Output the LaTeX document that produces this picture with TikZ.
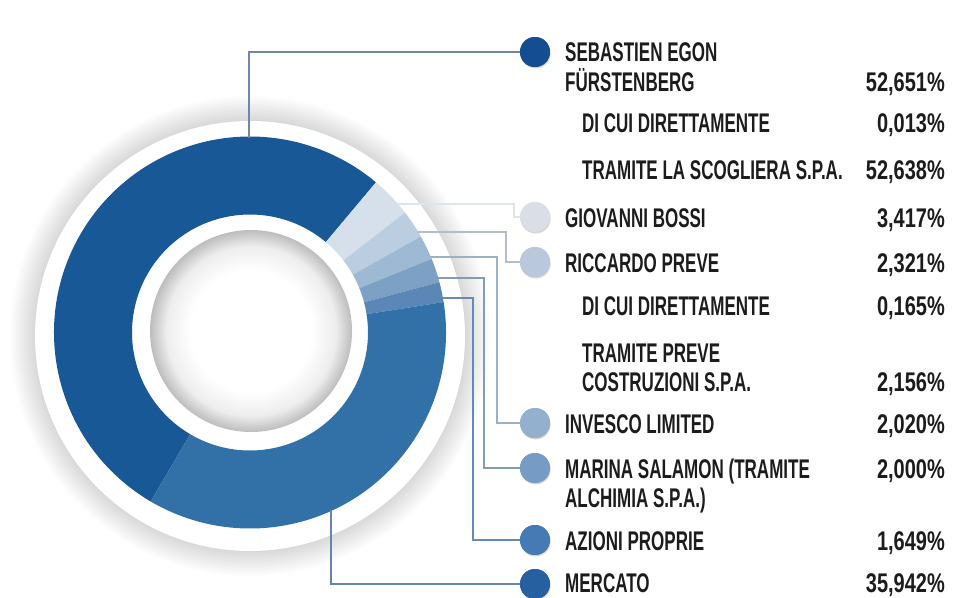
\documentclass[tikz,border=0pt]{standalone}
\usepackage{fontspec}
\setmainfont{Liberation Sans}
\newfontfamily\lblfont{Liberation Sans}[FakeStretch=0.63]
\newfontfamily\numfont{Liberation Sans}[FakeStretch=0.74]
\usetikzlibrary{shadows}
\definecolor{cF}{RGB}{24,88,151}
\definecolor{cM}{RGB}{50,112,168}
\definecolor{cB}{RGB}{214,224,235}
\definecolor{cP}{RGB}{187,205,224}
\definecolor{cI}{RGB}{158,185,212}
\definecolor{cS}{RGB}{125,160,197}
\definecolor{cA}{RGB}{90,135,182}
\definecolor{dF}{RGB}{20,78,145}
\definecolor{dB}{RGB}{218,222,230}
\definecolor{dP}{RGB}{185,200,220}
\definecolor{dI}{RGB}{148,176,207}
\definecolor{dS}{RGB}{118,155,196}
\definecolor{dA}{RGB}{68,123,180}
\definecolor{dM}{RGB}{38,96,160}
\definecolor{lnF}{RGB}{110,135,170}
\definecolor{lnB}{RGB}{222,228,236}
\definecolor{lnP}{RGB}{178,188,202}
\definecolor{lnI}{RGB}{160,176,196}
\definecolor{lnS}{RGB}{132,155,184}
\definecolor{lnA}{RGB}{104,137,176}
\definecolor{lnM}{RGB}{100,133,172}
\definecolor{txt}{RGB}{28,28,28}
\pgfdeclareradialshading{holeshade}{\pgfpoint{0bp}{0bp}}{color(0bp)=(white); color(15bp)=(white); color(21bp)=(black!7); color(25bp)=(black!26); color(50bp)=(black!26)}
\newcommand\donutseg[3]{\fill[#1] (#2:118) arc[start angle=#2, end angle=#3, radius=118] -- (#3:196) arc[start angle=#3, end angle=#2, radius=196] -- cycle;}
\begin{document}
\begin{tikzpicture}[x=1pt,y=-1pt,
  lbl/.style={anchor=base west, inner sep=0pt, text=txt, font=\lblfont\bfseries\fontsize{27}{32}\selectfont},
  val/.style={anchor=base east, inner sep=0pt, text=txt, font=\numfont\bfseries\fontsize{27}{32}\selectfont},
  legdot/.style={circle, minimum size=30pt, inner sep=0pt, draw=none, drop shadow={opacity=0.18, shadow xshift=0.6pt, shadow yshift=-1.4pt}},
  conn/.style={line width=1.4pt}]
\useasboundingbox (0,0) rectangle (953,597);
\fill[white] (0,0) rectangle (953,597);
% soft outer shadow and white disk
\foreach \r in {216,218,...,240}
  \fill[black,opacity=0.012] (250,336) circle[radius=\r];
\fill[white] (250,336) circle[radius=215];
% donut segments
\begin{scope}[shift={(250,332.5)}]
  \donutseg{cF}{-50}{-239.544}
  \donutseg{cB}{-37.699}{-50}
  \donutseg{cP}{-29.343}{-37.699}
  \donutseg{cI}{-22.071}{-29.343}
  \donutseg{cS}{-14.871}{-22.071}
  \donutseg{cA}{-8.935}{-14.871}
  \donutseg{cM}{120.456}{-8.935}
\end{scope}
% inner hole
\shade[shading=holeshade] (251,331) circle[radius=101];
% legend dots
\node[legdot, fill=dF] (dotF) at (535,52) {};
\node[legdot, fill=dB] (dotB) at (535,217) {};
\node[legdot, fill=dP] (dotP) at (535,262) {};
\node[legdot, fill=dI] (dotI) at (535,423) {};
\node[legdot, fill=dS] (dotS) at (535,468) {};
\node[legdot, fill=dA] (dotA) at (535,540) {};
\node[legdot, fill=dM] (dotM) at (535,584) {};
% connector anchors
\coordinate (sF) at (249,138);
\coordinate (sB) at (397,204);
\coordinate (kB) at (514,204);
\coordinate (sP) at (417,232);
\coordinate (kP) at (506,232);
\coordinate (sI) at (430,257);
\coordinate (kI) at (497,257);
\coordinate (sS) at (437,278);
\coordinate (kS) at (484,278);
\coordinate (sA) at (442,298);
\coordinate (kA) at (473,298);
\coordinate (sM) at (331,510);
% connectors
\draw[conn, lnF] (sF) |- (dotF);
\draw[conn, lnB] (sB) -- (kB) |- (dotB);
\draw[conn, lnP] (sP) -- (kP) |- (dotP);
\draw[conn, lnI] (sI) -- (kI) |- (dotI);
\draw[conn, lnS] (sS) -- (kS) |- (dotS);
\draw[conn, lnA] (sA) -- (kA) |- (dotA);
\draw[conn, lnM] (sM) |- (dotM);
% dots again on top of the lines
\node[legdot, fill=dF] (dotF2) at (dotF) {};
\node[legdot, fill=dB] (dotB2) at (dotB) {};
\node[legdot, fill=dP] (dotP2) at (dotP) {};
\node[legdot, fill=dI] (dotI2) at (dotI) {};
\node[legdot, fill=dS] (dotS2) at (dotS) {};
\node[legdot, fill=dA] (dotA2) at (dotA) {};
\node[legdot, fill=dM] (dotM2) at (dotM) {};
% labels
\node[lbl] (t1) at (565,61) {SEBASTIEN EGON};
\node[lbl] (t2) at (565,91) {FÜRSTENBERG};
\node[val] (v2) at (945,91) {52,651\%};
\node[lbl] (t3) at (582,132) {DI CUI DIRETTAMENTE};
\node[val] (v3) at (945,132) {0,013\%};
\node[lbl] (t4) at (582,179) {TRAMITE LA SCOGLIERA S.P.A.};
\node[val] (v4) at (945,179) {52,638\%};
\node[lbl] (t5) at (565,227) {GIOVANNI BOSSI};
\node[val] (v5) at (945,227) {3,417\%};
\node[lbl] (t6) at (565,272) {RICCARDO PREVE};
\node[val] (v6) at (945,272) {2,321\%};
\node[lbl] (t7) at (582,315) {DI CUI DIRETTAMENTE};
\node[val] (v7) at (945,315) {0,165\%};
\node[lbl] (t8) at (582,362) {TRAMITE PREVE};
\node[lbl] (t9) at (582,391) {COSTRUZIONI S.P.A.};
\node[val] (v9) at (945,391) {2,156\%};
\node[lbl] (t10) at (565,433) {INVESCO LIMITED};
\node[val] (v10) at (945,433) {2,020\%};
\node[lbl] (t11) at (565,478) {MARINA SALAMON (TRAMITE};
\node[val] (v11) at (945,478) {2,000\%};
\node[lbl] (t12) at (565,507) {ALCHIMIA S.P.A.)};
\node[lbl] (t13) at (565,550) {AZIONI PROPRIE};
\node[val] (v13) at (945,550) {1,649\%};
\node[lbl] (t14) at (565,592) {MERCATO};
\node[val] (v14) at (945,592) {35,942\%};
\end{tikzpicture}
\end{document}
